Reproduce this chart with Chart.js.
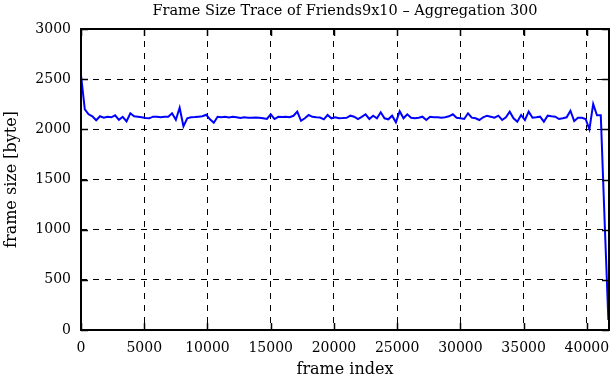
<!DOCTYPE html>
<html>
<head>
<meta charset="utf-8">
<script src="https://cdn.jsdelivr.net/npm/chart.js@4.4.1/dist/chart.umd.min.js"></script>
<style>
html,body{margin:0;padding:0;background:#fff;}
#wrap{width:611px;height:380px;}
</style>
</head>
<body>
<div id="wrap"><canvas id="c" width="611" height="380"></canvas></div>
<script>
const chartTitle = "Frame Size Trace of Friends9x10 \u2013 Aggregation 300";
const xAxisTitle = "frame index";
const yAxisTitle = "frame size [byte]";
const aggregation = 300;
const xTicks = [0, 5000, 10000, 15000, 20000, 25000, 30000, 35000, 40000];
const yTicks = [0, 500, 1000, 1500, 2000, 2500, 3000];
const frameSizes = [
  2540,2200,2150,2130,2090,2130,2115,2125,2120,2140,
  2095,2125,2080,2160,2130,2125,2120,2113,2110,2126,
  2126,2120,2126,2126,2160,2095,2215,2030,2110,2120,
  2122,2126,2130,2145,2100,2065,2125,2120,2125,2118,
  2125,2120,2113,2120,2116,2116,2118,2116,2110,2103,
  2150,2103,2125,2122,2125,2120,2135,2176,2085,2110,
  2143,2125,2120,2118,2100,2143,2110,2120,2110,2112,
  2115,2136,2126,2103,2125,2150,2103,2136,2110,2170,
  2110,2100,2136,2070,2180,2110,2150,2116,2110,2116,
  2126,2093,2126,2120,2120,2116,2120,2130,2150,2116,
  2110,2103,2160,2116,2110,2093,2120,2136,2126,2116,
  2136,2093,2120,2176,2110,2076,2143,2093,2176,2116,
  2120,2126,2076,2136,2130,2126,2103,2110,2120,2185,
  2083,2116,2116,2103,2000,2252,2140,2140,1100,100
];
const frameIndex = frameSizes.map((_, i) => i * aggregation);
const points = frameSizes.map((v, i) => ({x: frameIndex[i], y: v}));

const serif = "'DejaVu Serif', 'Liberation Serif', serif";

const frameBorder = {
  id: 'frameBorder',
  afterDraw(chart) {
    const {ctx, chartArea: a, scales} = chart;
    ctx.save();
    ctx.strokeStyle = '#000';
    ctx.lineWidth = 1.5;
    const tl = 7;
    ctx.beginPath();
    xTicks.forEach(v => {
      const px = Math.round(scales.x.getPixelForValue(v)) + 0.5;
      ctx.moveTo(px, a.bottom); ctx.lineTo(px, a.bottom - tl);
      ctx.moveTo(px, a.top); ctx.lineTo(px, a.top + tl);
    });
    yTicks.forEach(v => {
      const py = Math.round(scales.y.getPixelForValue(v)) + 0.5;
      ctx.moveTo(a.left, py); ctx.lineTo(a.left + tl, py);
      ctx.moveTo(a.right, py); ctx.lineTo(a.right - tl, py);
    });
    ctx.stroke();
    ctx.lineWidth = 2;
    ctx.strokeRect(a.left, a.top, a.right - a.left, a.bottom - a.top);
    ctx.restore();
  }
};

new Chart(document.getElementById('c'), {
  type: 'line',
  data: {
    datasets: [{
      data: points,
      borderColor: '#0000ff',
      borderWidth: 2,
      pointRadius: 0,
      tension: 0,
      fill: false
    }]
  },
  options: {
    responsive: false,
    animation: false,
    layout: {padding: {left: 0, right: 2, top: 0, bottom: 0}},
    plugins: {
      legend: {display: false},
      tooltip: {enabled: false},
      title: {
        display: true,
        text: chartTitle,
        color: '#000',
        font: {family: serif, size: 14.5, weight: 'normal'},
        padding: {top: 3, bottom: 8.6},
        fullSize: false
      }
    },
    scales: {
      x: {
        type: 'linear',
        min: 0,
        max: 41750,
        afterFit: s => { s.height = 50; s.paddingLeft = 0; s.paddingRight = 0; },
        afterBuildTicks: s => { s.ticks = xTicks.map(v => ({value: v})); },
        ticks: {
          color: '#000',
          font: {family: serif, size: 14},
          padding: 10,
          maxRotation: 0,
          autoSkip: false,
          includeBounds: false,
          callback: v => String(v)
        },
        grid: {
          color: '#000',
          lineWidth: 1,
          drawTicks: false,
          tickLength: 0
        },
        border: {display: false, dash: [6, 6]},
        title: {
          display: true,
          text: xAxisTitle,
          color: '#000',
          font: {family: serif, size: 16},
          padding: {top: 0, bottom: 1}
        }
      },
      y: {
        type: 'linear',
        min: 0,
        max: 3000,
        afterFit: s => { s.width = 81; s.paddingTop = 0; s.paddingBottom = 0; },
        afterBuildTicks: s => { s.ticks = yTicks.map(v => ({value: v})); },
        ticks: {
          color: '#000',
          font: {family: serif, size: 14},
          padding: 10,
          autoSkip: false,
          callback: v => String(v)
        },
        grid: {
          color: '#000',
          lineWidth: 1,
          drawTicks: false,
          tickLength: 0
        },
        border: {display: false, dash: [6, 6]},
        title: {
          display: true,
          text: yAxisTitle,
          color: '#000',
          font: {family: serif, size: 16},
          padding: {top: 2, bottom: 0}
        }
      }
    }
  },
  plugins: [frameBorder]
});
</script>
</body>
</html>
